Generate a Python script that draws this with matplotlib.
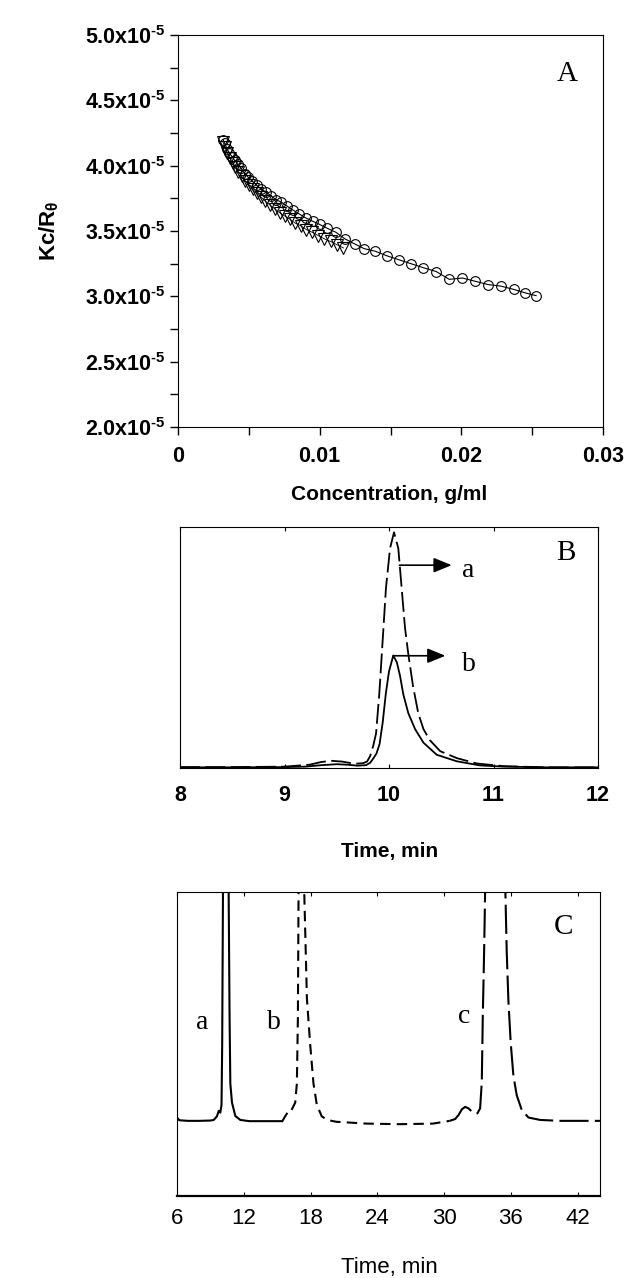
import numpy as np
import matplotlib
matplotlib.use('Agg')
import matplotlib.pyplot as plt
from matplotlib.ticker import MultipleLocator, FuncFormatter

plt.rcParams['font.family'] = ['Liberation Sans', 'DejaVu Sans']
plt.rcParams['mathtext.fontset'] = 'custom'
plt.rcParams['mathtext.rm'] = 'Liberation Sans:bold'
plt.rcParams['mathtext.bf'] = 'Liberation Sans:bold'
plt.rcParams['mathtext.it'] = 'Liberation Sans:bold'
plt.rcParams['mathtext.default'] = 'bf'

# === Panel A: Kc/R vs concentracion ===
conc_circ = [0.00318, 0.00330, 0.00345, 0.00362, 0.00380, 0.00400, 0.00422, 0.00445,
             0.00470, 0.00497, 0.00525, 0.00555, 0.00587, 0.00620, 0.00655, 0.00692,
             0.00730, 0.00770, 0.00812, 0.00856, 0.00902, 0.00950, 0.01000, 0.01055,
             0.01115, 0.01178, 0.01249, 0.01314, 0.01393, 0.01475, 0.01559, 0.01644,
             0.01729, 0.01822, 0.01915, 0.02008, 0.02099, 0.02189, 0.02280, 0.02370,
             0.02452, 0.02528]
kc_circ = [4.20, 4.17, 4.13, 4.10, 4.07, 4.04, 4.01, 3.98,
           3.94, 3.91, 3.88, 3.85, 3.82, 3.80, 3.77, 3.74,
           3.72, 3.69, 3.66, 3.63, 3.60, 3.575, 3.55, 3.52,
           3.49, 3.44, 3.40, 3.365, 3.345, 3.31, 3.28, 3.25,
           3.22, 3.19, 3.13, 3.14, 3.115, 3.09, 3.078, 3.053,
           3.026, 3.005]   # x1e-5

conc_tri = [0.00318, 0.00332, 0.00348, 0.00366, 0.00385, 0.00405, 0.00427, 0.00450,
            0.00475, 0.00500, 0.00527, 0.00555, 0.00585, 0.00616, 0.00648, 0.00682,
            0.00717, 0.00753, 0.00790, 0.00828, 0.00867, 0.00907, 0.00948, 0.00990,
            0.01033, 0.01077, 0.01122, 0.01168]
kc_tri = [4.18, 4.14, 4.10, 4.06, 4.02, 3.99, 3.95, 3.92,
          3.88, 3.85, 3.82, 3.79, 3.76, 3.73, 3.70, 3.67,
          3.64, 3.615, 3.59, 3.56, 3.54, 3.51, 3.49, 3.465,
          3.44, 3.42, 3.395, 3.37]   # x1e-5

# === Panel B: cromatogramas ===
tB_a = [8.0, 8.5, 9.0, 9.24, 9.35, 9.45, 9.55, 9.67, 9.75, 9.79, 9.82, 9.85, 9.876,
        9.907, 9.939, 9.971, 10.01, 10.048, 10.089, 10.121, 10.153, 10.185, 10.23,
        10.28, 10.33, 10.39, 10.49, 10.65, 10.84, 11.1, 11.5, 12.0]
yB_a = [0.004, 0.004, 0.006, 0.014, 0.025, 0.030, 0.027, 0.018, 0.020, 0.027, 0.050,
        0.094, 0.143, 0.307, 0.526, 0.746, 0.910, 0.976, 0.910, 0.746, 0.581, 0.471,
        0.339, 0.227, 0.161, 0.116, 0.070, 0.041, 0.019, 0.008, 0.003, 0.003]

tB_b = [8.0, 8.5, 9.0, 9.2, 9.35, 9.5, 9.6, 9.7, 9.78, 9.82, 9.85, 9.88, 9.91, 9.94,
        9.97, 10.0, 10.041, 10.075, 10.105, 10.137, 10.185, 10.25, 10.33, 10.457,
        10.65, 10.87, 11.1, 11.5, 12.0]
yB_b = [0.003, 0.003, 0.004, 0.006, 0.012, 0.016, 0.014, 0.010, 0.012, 0.022, 0.040,
        0.060, 0.100, 0.190, 0.310, 0.400, 0.466, 0.438, 0.383, 0.305, 0.227, 0.161,
        0.105, 0.055, 0.028, 0.011, 0.006, 0.003, 0.003]

# === Panel C: cromatogramas ===
tC_a = [6.0, 6.2, 7.0, 8.0, 9.0, 9.3, 9.59, 9.75, 9.89, 10.0, 10.06, 10.13, 10.38,
        10.64, 10.72, 10.79, 10.94, 11.24, 11.69, 12.5, 14.0, 15.43]
yC_a = [0.258, 0.249, 0.247, 0.247, 0.248, 0.250, 0.262, 0.280, 0.274, 0.300, 0.500,
        1.000, 2.500, 1.000, 0.600, 0.370, 0.307, 0.263, 0.250, 0.246, 0.246, 0.246]

tC_b = [15.43, 15.73, 15.93, 16.1, 16.32, 16.62, 16.77, 16.86, 16.92, 17.17, 17.43,
        17.67, 17.96, 18.26, 18.56, 19.0, 19.5, 20.3, 23.0, 26.0, 29.0, 30.5]
yC_b = [0.244, 0.263, 0.274, 0.272, 0.285, 0.307, 0.371, 0.587, 1.000, 2.500, 1.000,
        0.650, 0.500, 0.370, 0.300, 0.262, 0.250, 0.244, 0.238, 0.236, 0.238, 0.247]

tC_c = [30.5, 30.99, 31.29, 31.59, 31.89, 32.19, 32.64, 32.99, 33.23, 33.38, 33.47,
        33.59, 33.68, 34.6, 35.5, 35.62, 35.77, 35.98, 36.22, 36.52, 36.97, 37.57,
        38.62, 40.41, 44.0]
yC_c = [0.247, 0.253, 0.266, 0.285, 0.293, 0.288, 0.272, 0.272, 0.288, 0.374, 0.589,
        0.804, 1.000, 3.000, 1.000, 0.804, 0.643, 0.503, 0.396, 0.331, 0.283, 0.258,
        0.250, 0.247, 0.247]

fig = plt.figure(figsize=(6.25, 12.78), dpi=100)
serif = 'Liberation Serif'

# ---------------- Panel A ----------------
axA = fig.add_axes([0.2848, 0.6659, 0.68, 0.3067])
axA.plot(conc_circ, np.array(kc_circ) * 1e-5, '-', color='black', lw=0.8,
         marker='o', mfc='none', mec='black', ms=7, mew=0.8)
axA.plot(conc_tri, np.array(kc_tri) * 1e-5, '-', color='black', lw=0.6,
         marker='v', mfc='none', mec='black', ms=8, mew=0.8)
axA.set_xlim(0, 0.03)
axA.set_ylim(2e-5, 5e-5)
axA.set_xticks([0, 0.01, 0.02, 0.03])
axA.set_xticklabels(['0', '0.01', '0.02', '0.03'])
axA.xaxis.set_minor_locator(MultipleLocator(0.005))
axA.set_yticks(np.arange(2e-5, 5.01e-5, 0.5e-5))
axA.yaxis.set_minor_locator(MultipleLocator(0.25e-5))
axA.yaxis.set_major_formatter(
    FuncFormatter(lambda v, p: '%.1fx10$^{\\text{-}5}$' % (v / 1e-5)))
axA.tick_params(which='both', direction='out', length=6, width=1, top=False, right=False)
axA.tick_params(axis='x', pad=8)
axA.tick_params(axis='y', pad=3)
for lab in axA.get_xticklabels() + axA.get_yticklabels():
    lab.set_fontsize(15.5)
    lab.set_fontweight('bold')
axA.set_ylabel(r'Kc/R$_\theta$', fontsize=16, fontweight='bold')
axA.yaxis.set_label_coords(-0.275, 0.5)
axA.text(0.915, 0.90, 'A', transform=axA.transAxes, fontsize=21, family=serif,
         ha='center', va='center')
fig.text(0.6232, 1 - 495 / 1278, 'Concentration, g/ml', fontsize=15, fontweight='bold',
         ha='center', va='center')

# ---------------- Panel B ----------------
axB = fig.add_axes([0.288, 0.399, 0.6688, 0.189])
axB.plot(tB_a, yB_a, color='black', lw=1.3, dashes=(11, 3))
axB.plot(tB_b, yB_b, color='black', lw=1.3)
axB.set_xlim(8, 12)
axB.set_ylim(0, 1.0)
axB.set_xticks([8, 9, 10, 11, 12])
axB.set_yticks([])
axB.tick_params(axis='x', direction='in', length=3, top=True, pad=12)
for lab in axB.get_xticklabels():
    lab.set_fontsize(15.5)
    lab.set_fontweight('bold')
arrow = dict(arrowstyle='-|>,head_length=1.1,head_width=0.45', color='black',
             lw=1.2, shrinkA=0, shrinkB=0)
axB.annotate('', xy=(10.6, 0.84), xytext=(10.1, 0.84), arrowprops=arrow)
axB.annotate('', xy=(10.54, 0.465), xytext=(10.04, 0.465), arrowprops=arrow)
axB.text(10.7, 0.82, 'a', fontsize=20, family=serif, ha='left', va='center')
axB.text(10.7, 0.43, 'b', fontsize=20, family=serif, ha='left', va='center')
axB.text(0.923, 0.89, 'B', transform=axB.transAxes, fontsize=21, family=serif,
         ha='center', va='center')
fig.text(0.6232, 1 - 852 / 1278, 'Time, min', fontsize=15, fontweight='bold',
         ha='center', va='center')

# ---------------- Panel C ----------------
axC = fig.add_axes([0.2832, 0.0642, 0.6768, 0.2379])
axC.plot(tC_a, yC_a, color='black', lw=1.5)
axC.plot(tC_b, yC_b, color='black', lw=1.5, dashes=(5, 3))
axC.plot(tC_c, yC_c, color='black', lw=1.5, dashes=(14, 3))
axC.set_xlim(6, 44)
axC.set_ylim(0, 1.0)
axC.set_xticks([6, 12, 18, 24, 30, 36, 42])
axC.set_yticks([])
axC.tick_params(axis='x', direction='in', length=3, top=True, pad=9, labelsize=16)
axC.spines['bottom'].set_linewidth(1.6)
axC.text(8.3, 0.57, 'a', fontsize=20, family=serif, ha='center', va='center')
axC.text(14.7, 0.57, 'b', fontsize=20, family=serif, ha='center', va='center')
axC.text(31.8, 0.59, 'c', fontsize=20, family=serif, ha='center', va='center')
axC.text(0.913, 0.886, 'C', transform=axC.transAxes, fontsize=21, family=serif,
         ha='center', va='center')
fig.text(0.6232, 1 - 1267 / 1278, 'Time, min', fontsize=16, ha='center', va='center')

fig.savefig('out.png', dpi=100)
